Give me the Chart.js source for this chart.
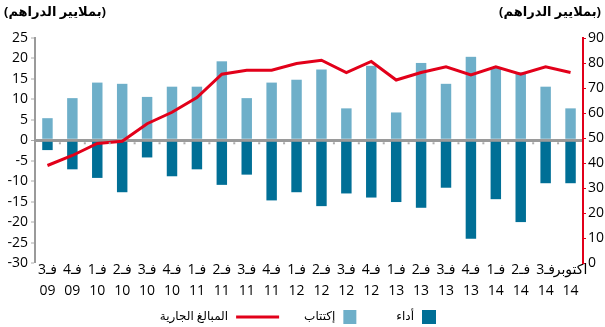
<!DOCTYPE html>
<html>
<head>
<meta charset="utf-8">
<script src="https://cdn.jsdelivr.net/npm/chart.js@4/dist/chart.umd.min.js"></script>
<style>
  html, body { margin: 0; padding: 0; background: #fff; }
  #wrap { width: 605px; height: 327px; }
</style>
</head>
<body>
<div id="wrap"><canvas id="myChart" width="605" height="327"></canvas></div>
<script>
var quarters = ["فـ3", "فـ4", "فـ1", "فـ2", "فـ3", "فـ4", "فـ1", "فـ2", "فـ3", "فـ4", "فـ1",
  "فـ2", "فـ3", "فـ4", "فـ1", "فـ2", "فـ3", "فـ4", "فـ1", "فـ2", "فـ3", "أكتوبر"];
var years = ["09", "09", "10", "10", "10", "10", "11", "11", "11", "11", "12",
  "12", "12", "12", "13", "13", "13", "13", "14", "14", "14", "14"];

// subscriptions (light bars), repayments (dark bars), left axis
var subscriptions = [5.4, 10.3, 14.1, 13.8, 10.6, 13.1, 13.1, 19.3, 10.3, 14.1, 14.8,
  17.3, 7.8, 18.2, 6.8, 18.9, 13.8, 20.4, 17.8, 16.6, 13.1, 7.8];
var repayments = [-2.4, -7.1, -9.2, -12.7, -4.2, -8.8, -7.1, -10.9, -8.4, -14.7, -12.7,
  -16.1, -13.0, -14.0, -15.1, -16.5, -11.6, -24.1, -14.4, -20.0, -10.5, -10.5];
// outstanding amounts, right axis
var outstanding = [39, 43, 47.8, 48.7, 55.7, 60.3, 66.2, 75.5, 77.1, 77.1, 79.8,
  81.1, 76.2, 80.6, 73.2, 76.2, 78.5, 75.2, 78.5, 75.5, 78.5, 76.2];

var leftTitle = "(بملايير الدراهم)";
var rightTitle = "(بملايير الدراهم)";

var labels = quarters.map(function(q, i) { return [q, years[i]]; });

var fontFamily = "'Open Sans', 'DejaVu Sans', sans-serif";
var red = '#e2001a';
var light = '#6eafc9';
var dark = '#006f96';

// titles + legend + little marks on the zero line
var extras = {
  id: 'extras',
  afterDraw: function(chart) {
    var ctx = chart.ctx;
    var x = chart.scales.x, y = chart.scales.y;
    ctx.save();
    // little marks under the zero line between categories
    var y0 = y.getPixelForValue(0);
    ctx.fillStyle = '#aaa';
    for (var i = 0; i < labels.length - 1; i++) {
      var mx = (x.getPixelForValue(i) + x.getPixelForValue(i + 1)) / 2;
      ctx.fillRect(mx - 1, y0 + 2, 2, 2);
    }
    // axis titles
    ctx.fillStyle = '#000';
    ctx.font = "bold 13px " + fontFamily;
    ctx.direction = 'rtl';
    ctx.textBaseline = 'middle';
    ctx.textAlign = 'left';
    ctx.fillText(leftTitle, 4, 12);
    ctx.textAlign = 'right';
    ctx.fillText(rightTitle, 601, 12);

    // legend, right to left
    var items = [
      { label: chart.data.datasets[2].label, color: dark, kind: 'box', w: 14, gap: 40 },
      { label: chart.data.datasets[1].label, color: light, kind: 'box', w: 13, gap: 25 },
      { label: chart.data.datasets[0].label, color: red, kind: 'line', w: 43, gap: 0 }
    ];
    var ly = 317, xr = 436;
    ctx.font = "12px " + fontFamily;
    items.forEach(function(it) {
      ctx.fillStyle = it.color;
      if (it.kind === 'box') {
        ctx.fillRect(xr - it.w, ly - 7, it.w, 14);
      } else {
        ctx.fillRect(xr - it.w, ly - 1.5, it.w, 3);
      }
      xr -= it.w + 8;
      ctx.fillStyle = '#000';
      ctx.textAlign = 'right';
      ctx.fillText(it.label, xr, ly);
      xr -= ctx.measureText(it.label).width + it.gap;
    });
    ctx.restore();
  }
};

var chart = new Chart(document.getElementById('myChart'), {
  type: 'bar',
  data: {
    labels: labels,
    datasets: [
      {
        type: 'line',
        label: 'المبالغ الجارية',
        data: outstanding,
        yAxisID: 'y1',
        borderColor: red,
        backgroundColor: red,
        borderWidth: 3,
        pointRadius: 0,
        tension: 0,
        order: 0
      },
      {
        label: 'إكتتاب',
        data: subscriptions,
        backgroundColor: light,
        yAxisID: 'y',
        barPercentage: 0.42,
        categoryPercentage: 1,
        order: 1
      },
      {
        label: 'أداء',
        data: repayments,
        backgroundColor: dark,
        yAxisID: 'y',
        barPercentage: 0.42,
        categoryPercentage: 1,
        order: 1
      }
    ]
  },
  options: {
    responsive: false,
    animation: false,
    layout: { padding: { top: 38, bottom: 0, left: 0, right: 0 } },
    plugins: {
      legend: { display: false },
      tooltip: { enabled: false }
    },
    scales: {
      x: {
        stacked: true,
        afterFit: function(s) { s.height = 64; },
        grid: { display: false, drawTicks: false },
        border: { display: false },
        ticks: {
          color: '#000',
          font: { family: fontFamily, size: 14, lineHeight: 1.5 },
          maxRotation: 0,
          autoSkip: false,
          padding: -3
        }
      },
      y: {
        stacked: true,
        position: 'left',
        min: -30,
        max: 25,
        afterFit: function(s) { s.width = 35; },
        ticks: {
          stepSize: 5,
          color: '#000',
          font: { family: fontFamily, size: 14 },
          padding: 3
        },
        grid: {
          color: function(c) { return c.tick && c.tick.value === 0 ? '#9a9a9a' : 'rgba(0,0,0,0)'; },
          lineWidth: function(c) { return c.tick && c.tick.value === 0 ? 3 : 0; },
          tickColor: '#aaa',
          tickLength: 4,
          tickWidth: 1
        },
        border: { color: '#9a9a9a', width: 2 }
      },
      y1: {
        position: 'right',
        min: 0,
        max: 90,
        afterFit: function(s) { s.width = 22; },
        ticks: {
          stepSize: 10,
          color: '#000',
          font: { family: fontFamily, size: 14 },
          padding: 2
        },
        grid: {
          drawOnChartArea: false,
          tickColor: red,
          tickLength: 3,
          tickWidth: 1
        },
        border: { color: red, width: 2 }
      }
    }
  },
  plugins: [extras]
});
</script>
</body>
</html>
